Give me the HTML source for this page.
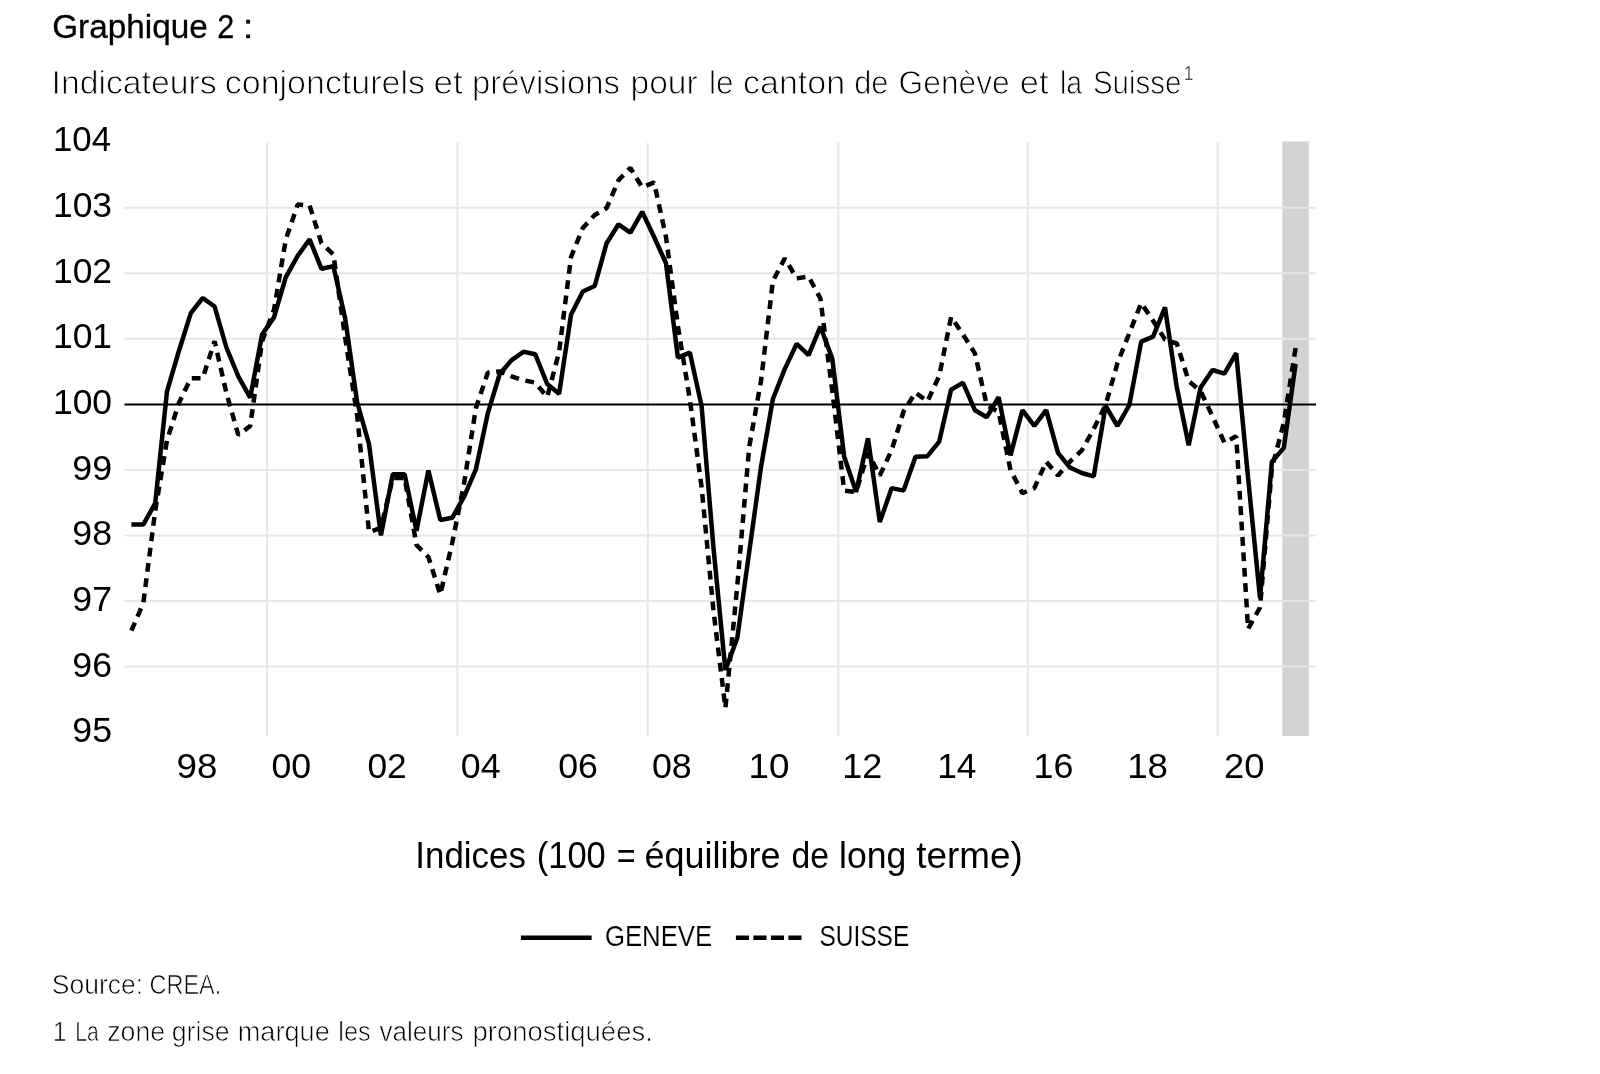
<!DOCTYPE html>
<html><head><meta charset="utf-8"><title>Graphique 2</title>
<style>html,body{margin:0;padding:0;background:#fff}svg{display:block;filter:grayscale(1)}text{font-family:"Liberation Sans",sans-serif;fill:#000}</style></head><body>
<svg width="1600" height="1074" viewBox="0 0 1600 1074">
<rect width="1600" height="1074" fill="#fff"/>
<rect x="1282.4" y="141.4" width="26.4" height="594.6" fill="#d3d3d3"/>
<line x1="124.4" x2="1316" y1="666.5" y2="666.5" stroke="#e7e7e7" stroke-width="2"/>
<line x1="124.4" x2="1316" y1="601.0" y2="601.0" stroke="#e7e7e7" stroke-width="2"/>
<line x1="124.4" x2="1316" y1="535.4" y2="535.4" stroke="#e7e7e7" stroke-width="2"/>
<line x1="124.4" x2="1316" y1="469.9" y2="469.9" stroke="#e7e7e7" stroke-width="2"/>
<line x1="124.4" x2="1316" y1="338.8" y2="338.8" stroke="#e7e7e7" stroke-width="2"/>
<line x1="124.4" x2="1316" y1="273.2" y2="273.2" stroke="#e7e7e7" stroke-width="2"/>
<line x1="124.4" x2="1316" y1="207.7" y2="207.7" stroke="#e7e7e7" stroke-width="2"/>
<line x1="267.2" x2="267.2" y1="142.4" y2="736" stroke="#e7e7e7" stroke-width="2"/>
<line x1="457.4" x2="457.4" y1="142.4" y2="736" stroke="#e7e7e7" stroke-width="2"/>
<line x1="647.8" x2="647.8" y1="142.4" y2="736" stroke="#e7e7e7" stroke-width="2"/>
<line x1="838.2" x2="838.2" y1="142.4" y2="736" stroke="#e7e7e7" stroke-width="2"/>
<line x1="1027.8" x2="1027.8" y1="142.4" y2="736" stroke="#e7e7e7" stroke-width="2"/>
<line x1="1217.8" x2="1217.8" y1="142.4" y2="736" stroke="#e7e7e7" stroke-width="2"/>
<line x1="124.4" x2="1316" y1="404.5" y2="404.5" stroke="#000" stroke-width="2"/>
<path fill="none" stroke="#000" stroke-width="4.5" stroke-linejoin="bevel" pathLength="4397.8" stroke-dasharray="8.8 6.6" d="M131.4,630.7 L143.3,603.1 L155.2,511.0 L167.0,440.3 L178.9,403.0 L190.8,378.2 L202.7,378.2 L214.6,341.2 L226.4,393.0 L238.3,435.0 L250.2,426.0 L262.1,341.2 L274.0,309.8 L285.8,239.4 L297.7,204.5 L309.6,205.5 L321.5,243.2 L333.4,254.5 L345.2,338.0 L357.1,415.0 L369.0,532.0 L380.9,528.0 L392.8,478.0 L404.6,478.0 L416.5,545.0 L428.4,557.0 L440.3,594.5 L452.2,543.0 L464.0,484.0 L475.9,408.0 L487.8,372.7 L499.7,371.4 L511.6,376.4 L523.4,380.2 L535.3,382.7 L547.2,397.0 L559.1,352.0 L571.0,257.0 L582.8,228.1 L594.7,215.0 L606.6,208.0 L618.5,180.3 L630.4,167.8 L642.2,187.4 L654.1,182.4 L666.0,237.0 L677.9,326.0 L689.8,399.0 L701.6,487.0 L713.5,611.0 L725.4,708.0 L737.3,585.5 L749.2,447.0 L761.0,381.0 L772.9,281.0 L784.8,258.3 L796.7,278.4 L808.6,276.5 L820.4,298.5 L832.3,391.0 L844.2,490.6 L856.1,491.9 L868.0,453.0 L879.8,475.5 L891.7,450.0 L903.6,411.4 L915.5,392.5 L927.4,401.4 L939.2,376.0 L951.1,316.9 L963.0,334.5 L974.9,353.4 L986.8,405.1 L998.6,412.0 L1010.5,470.0 L1022.4,493.1 L1034.3,488.1 L1046.2,461.7 L1058.0,475.5 L1069.9,461.7 L1081.8,450.4 L1093.7,429.0 L1105.6,405.1 L1117.4,363.4 L1129.3,333.2 L1141.2,303.1 L1153.1,320.7 L1165.0,339.5 L1176.8,343.5 L1188.7,381.0 L1200.6,391.1 L1212.5,416.2 L1224.4,442.6 L1236.2,436.3 L1248.1,628.9 L1260.0,607.5 L1271.9,468.0 L1283.8,423.0 L1295.6,348.0"/>
<polyline fill="none" stroke="#000" stroke-width="4.5" stroke-linejoin="bevel" points="131.4,524.6 143.3,524.6 155.2,503.2 167.0,391.3 178.9,351.0 190.8,313.1 202.7,298.0 214.6,306.5 226.4,347.5 238.3,376.4 250.2,397.6 262.1,334.5 274.0,317.4 285.8,277.1 297.7,255.8 309.6,239.4 321.5,268.8 333.4,266.3 345.2,318.6 357.1,402.0 369.0,444.1 380.9,535.4 392.8,474.3 404.6,474.3 416.5,530.8 428.4,470.5 440.3,520.0 452.2,517.8 464.0,496.9 475.9,469.3 487.8,413.3 499.7,374.0 511.6,360.1 523.4,351.8 535.3,354.3 547.2,384.0 559.1,393.8 571.0,314.8 582.8,291.5 594.7,286.0 606.6,243.2 618.5,224.3 630.4,232.6 642.2,211.8 654.1,237.0 666.0,263.3 677.9,357.6 689.8,352.6 701.6,406.0 713.5,548.0 725.4,670.0 737.3,638.0 749.2,552.0 761.0,467.0 772.9,399.0 784.8,368.9 796.7,343.8 808.6,355.1 820.4,326.7 832.3,358.5 844.2,456.7 856.1,491.9 868.0,438.3 879.8,522.0 891.7,488.1 903.6,490.6 915.5,456.7 927.4,456.2 939.2,441.6 951.1,389.6 963.0,382.8 974.9,410.2 986.8,417.2 998.6,397.1 1010.5,455.4 1022.4,410.2 1034.3,425.8 1046.2,410.2 1058.0,452.9 1069.9,467.5 1081.8,473.0 1093.7,476.3 1105.6,405.9 1117.4,426.0 1129.3,405.1 1141.2,341.6 1153.1,336.6 1165.0,307.4 1176.8,387.3 1188.7,445.3 1200.6,387.4 1212.5,370.0 1224.4,373.7 1236.2,353.1 1248.1,478.0 1260.0,598.0 1271.9,461.7 1283.8,447.9 1295.6,364.0"/>
<text transform="translate(72.36,742.34) scale(1.0380,1)" font-size="34.4">95</text>
<text transform="translate(72.36,676.68) scale(1.0380,1)" font-size="34.4">96</text>
<text transform="translate(72.36,611.02) scale(1.0380,1)" font-size="34.4">97</text>
<text transform="translate(72.36,545.36) scale(1.0380,1)" font-size="34.4">98</text>
<text transform="translate(72.36,479.70) scale(1.0380,1)" font-size="34.4">99</text>
<text transform="translate(52.94,414.04) scale(1.0304,1)" font-size="34.4">100</text>
<text transform="translate(52.94,348.38) scale(1.0304,1)" font-size="34.4">101</text>
<text transform="translate(52.94,282.72) scale(1.0304,1)" font-size="34.4">102</text>
<text transform="translate(52.94,217.06) scale(1.0304,1)" font-size="34.4">103</text>
<text transform="translate(52.98,151.40) scale(1.0117,1)" font-size="34.4">104</text>
<text transform="translate(176.53,777.60) scale(1.0685,1)" font-size="34.4">98</text>
<text transform="translate(271.46,777.60) scale(1.0380,1)" font-size="34.4">00</text>
<text transform="translate(367.47,777.60) scale(1.0269,1)" font-size="34.4">02</text>
<text transform="translate(460.76,777.60) scale(1.0397,1)" font-size="34.4">04</text>
<text transform="translate(558.26,777.60) scale(1.0380,1)" font-size="34.4">06</text>
<text transform="translate(651.96,777.60) scale(1.0408,1)" font-size="34.4">08</text>
<text transform="translate(748.46,777.60) scale(1.0676,1)" font-size="34.4">10</text>
<text transform="translate(842.31,777.60) scale(1.0448,1)" font-size="34.4">12</text>
<text transform="translate(937.15,777.60) scale(1.0269,1)" font-size="34.4">14</text>
<text transform="translate(1033.51,777.60) scale(1.0448,1)" font-size="34.4">16</text>
<text transform="translate(1127.16,777.60) scale(1.0676,1)" font-size="34.4">18</text>
<text transform="translate(1223.94,777.60) scale(1.0574,1)" font-size="34.4">20</text>
<text transform="translate(52.15,38.00) scale(1.0038,1)" font-size="33.2" stroke="#000" stroke-width="0.3">Graphique</text>
<text transform="translate(217.22,38.00) scale(0.9202,1)" font-size="33.2" stroke="#000" stroke-width="0.3">2</text>
<text transform="translate(242.69,38.00) scale(1.1628,1)" font-size="33.2" stroke="#000" stroke-width="0.3">:</text>
<text transform="translate(51.51,93.90) scale(1.0111,1)" font-size="33.4" stroke="#fff" stroke-width="0.9">Indicateurs</text>
<text transform="translate(224.77,93.90) scale(1.0173,1)" font-size="33.4" stroke="#fff" stroke-width="0.9">conjoncturels</text>
<text transform="translate(433.48,93.90) scale(1.0499,1)" font-size="33.4" stroke="#fff" stroke-width="0.9">et</text>
<text transform="translate(472.09,93.90) scale(0.9831,1)" font-size="33.4" stroke="#fff" stroke-width="0.9">prévisions</text>
<text transform="translate(630.54,93.90) scale(1.0030,1)" font-size="33.4" stroke="#fff" stroke-width="0.9">pour</text>
<text transform="translate(708.94,93.90) scale(0.9437,1)" font-size="33.4" stroke="#fff" stroke-width="0.9">le</text>
<text transform="translate(743.02,93.90) scale(1.0177,1)" font-size="33.4" stroke="#fff" stroke-width="0.9">canton</text>
<text transform="translate(854.16,93.90) scale(0.9230,1)" font-size="33.4" stroke="#fff" stroke-width="0.9">de</text>
<text transform="translate(898.62,93.90) scale(0.9500,1)" font-size="33.4" stroke="#fff" stroke-width="0.9">Genève</text>
<text transform="translate(1019.75,93.90) scale(1.0311,1)" font-size="33.4" stroke="#fff" stroke-width="0.9">et</text>
<text transform="translate(1059.92,93.90) scale(0.8504,1)" font-size="33.4" stroke="#fff" stroke-width="0.9">la</text>
<text transform="translate(1092.97,93.90) scale(0.8823,1)" font-size="33.4" stroke="#fff" stroke-width="0.9">Suisse</text>
<text transform="translate(1183.67,80.00) scale(0.8542,1)" font-size="20.6" stroke="#fff" stroke-width="0.4">1</text>
<text transform="translate(415.37,868.40) scale(0.9426,1)" font-size="37.0">Indices</text>
<text transform="translate(536.74,868.40) scale(0.9318,1)" font-size="37.0">(100</text>
<text transform="translate(616.73,868.40) scale(0.8684,1)" font-size="37.0">=</text>
<text transform="translate(644.53,868.40) scale(0.9731,1)" font-size="37.0">équilibre</text>
<text transform="translate(791.59,868.40) scale(0.9099,1)" font-size="37.0">de</text>
<text transform="translate(839.07,868.40) scale(0.9627,1)" font-size="37.0">long</text>
<text transform="translate(916.30,868.40) scale(0.9964,1)" font-size="37.0">terme)</text>
<text transform="translate(604.98,946.20) scale(0.8569,1)" font-size="30.0" stroke="#fff" stroke-width="0.15">GENEVE</text>
<text transform="translate(819.52,946.20) scale(0.8157,1)" font-size="30.0" stroke="#fff" stroke-width="0.15">SUISSE</text>
<text transform="translate(51.74,993.80) scale(0.9336,1)" font-size="28.4" stroke="#fff" stroke-width="0.7">Source:</text>
<text transform="translate(149.48,993.80) scale(0.8271,1)" font-size="28.4" stroke="#fff" stroke-width="0.7">CREA.</text>
<text transform="translate(52.82,1041.00) scale(0.8862,1)" font-size="28.2" stroke="#fff" stroke-width="0.7">1</text>
<text transform="translate(75.34,1041.00) scale(0.7489,1)" font-size="28.2" stroke="#fff" stroke-width="0.7">La</text>
<text transform="translate(107.22,1041.00) scale(0.9481,1)" font-size="28.2" stroke="#fff" stroke-width="0.7">zone</text>
<text transform="translate(171.72,1041.00) scale(0.9486,1)" font-size="28.2" stroke="#fff" stroke-width="0.7">grise</text>
<text transform="translate(237.70,1041.00) scale(0.9636,1)" font-size="28.2" stroke="#fff" stroke-width="0.7">marque</text>
<text transform="translate(338.29,1041.00) scale(0.8966,1)" font-size="28.2" stroke="#fff" stroke-width="0.7">les</text>
<text transform="translate(379.58,1041.00) scale(0.9226,1)" font-size="28.2" stroke="#fff" stroke-width="0.7">valeurs</text>
<text transform="translate(472.48,1041.00) scale(0.9753,1)" font-size="28.2" stroke="#fff" stroke-width="0.7">pronostiquées.</text>
<line x1="520.9" x2="591.6" y1="937.7" y2="937.7" stroke="#000" stroke-width="4.6"/>
<line x1="735.9" x2="801.7" y1="937.7" y2="937.7" stroke="#000" stroke-width="4.5" stroke-dasharray="13.1 4.4"/>
</svg></body></html>
